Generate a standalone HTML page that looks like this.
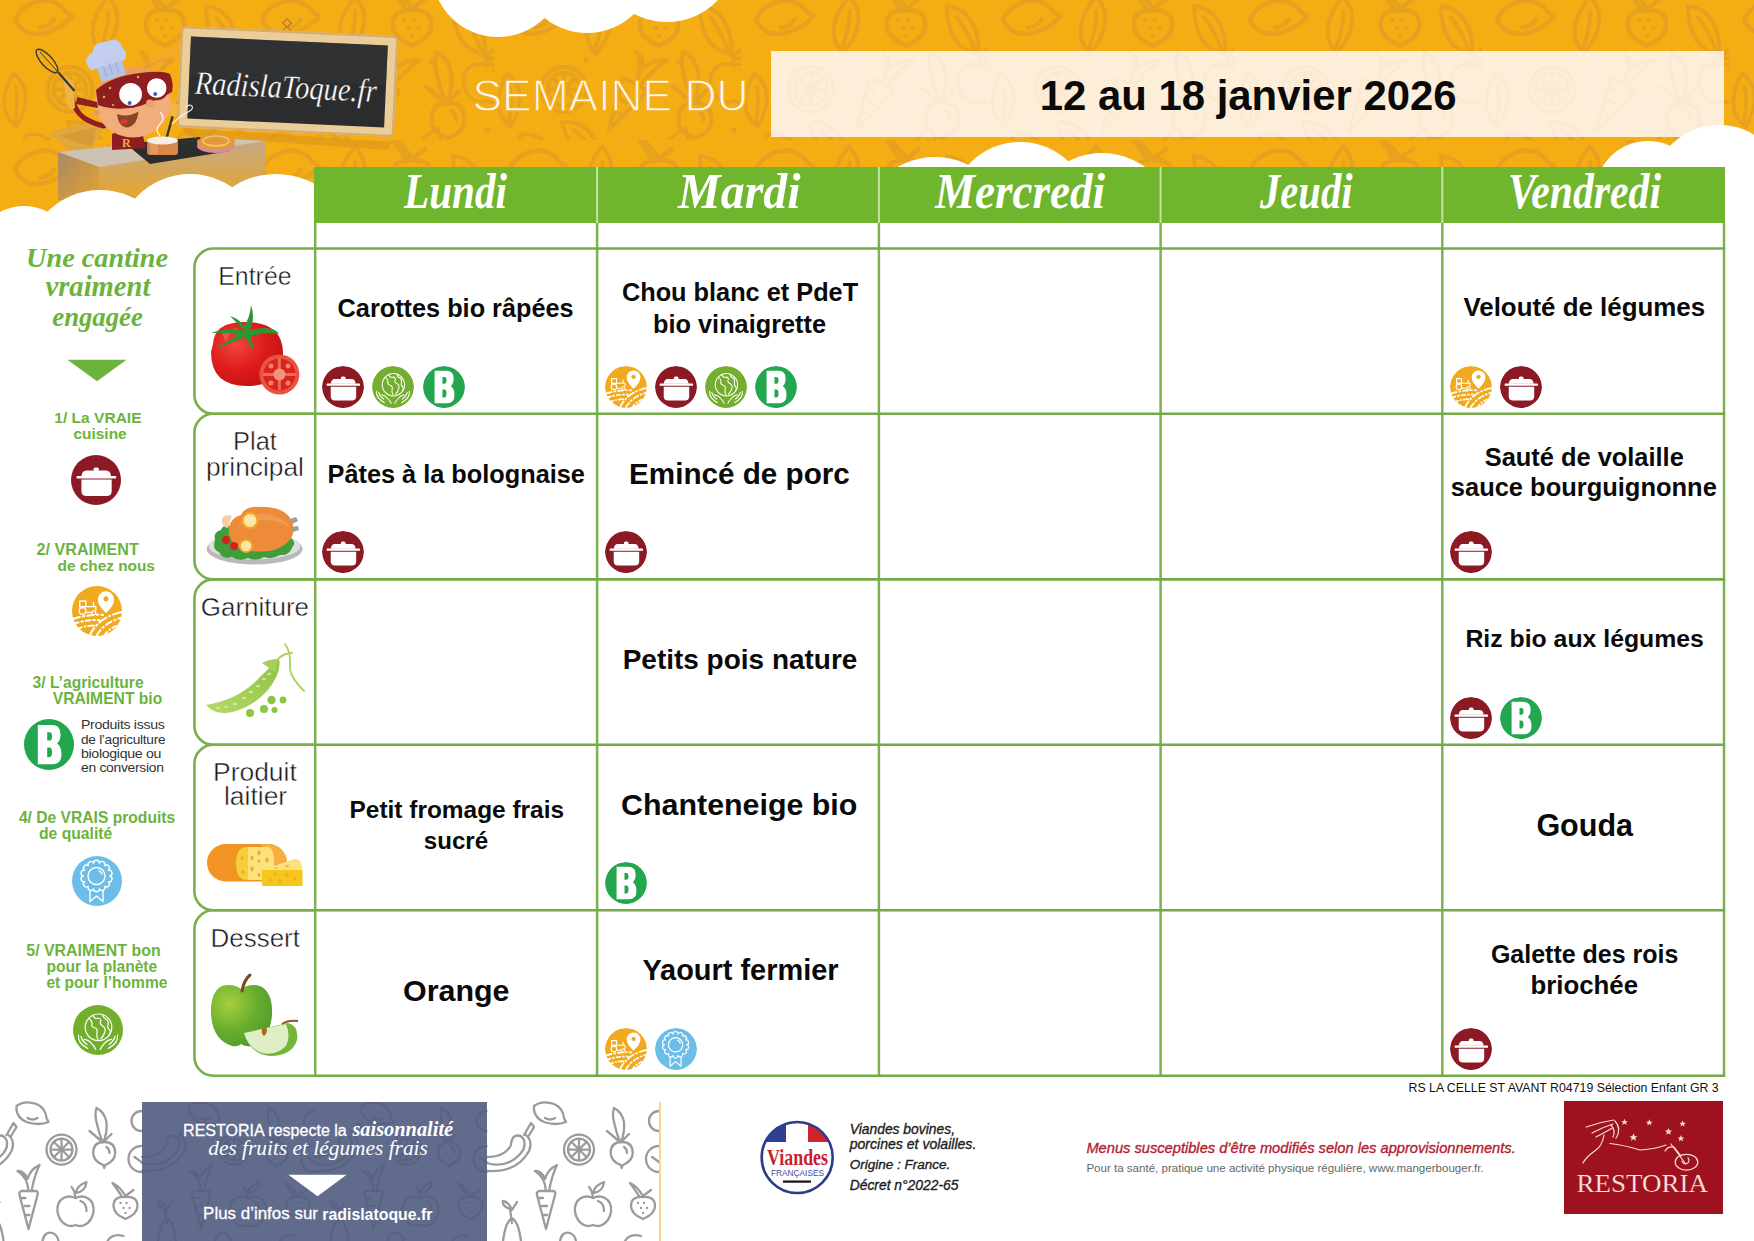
<!DOCTYPE html>
<html><head><meta charset="utf-8">
<style>
*{margin:0;padding:0;box-sizing:border-box}
html,body{width:1754px;height:1241px;overflow:hidden;background:#fff}
body{position:relative;font-family:"Liberation Sans",sans-serif;color:#111}
.abs{position:absolute}
.t{position:absolute;white-space:nowrap}
#hdr{position:absolute;left:0;top:0;width:1754px;height:230px;background:#f5ad14;overflow:hidden}
.cloud{position:absolute;background:#fff;border-radius:50%}
#date{position:absolute;left:771px;top:51px;width:953px;height:86px;background:#fdeeda}
#daterow{position:absolute;left:1039px;top:72px;font-weight:bold;font-size:42px;white-space:nowrap;color:#0a0a0a}
#semaine{position:absolute;left:473px;top:72px;font-size:43px;color:rgba(255,245,225,0.92);white-space:nowrap}
#ghead{position:absolute;left:314px;top:167px;width:1411px;height:56px;background:#6fb52d}
.gsep{position:absolute;top:167px;width:2px;height:56px;background:#c9e3ae}
.day{position:absolute;top:165px;height:56px;width:282px;text-align:center;font-family:"Liberation Serif",serif;font-style:italic;font-weight:bold;font-size:44px;color:#fff;line-height:60px}
.vl{position:absolute;width:3px;background:#78b64c}
.hl{position:absolute;height:2px;background:#74a84c}
.lab{position:absolute;left:193px;width:123px;border:2.5px solid #77b24a;border-right:none;border-radius:20px 0 0 20px}
.ltxt{position:absolute;left:194px;width:121px;text-align:center;font-size:26px;color:#222;line-height:25px}
.cell{position:absolute;width:280px;text-align:center;font-weight:bold;font-size:25px;line-height:31px;color:#0a0a0a;white-space:nowrap}
.big{font-size:29px}
.ic{position:absolute;width:42px;height:42px;border-radius:50%}
</style></head><body>
<svg width="0" height="0" style="position:absolute">
<defs>
<symbol id="pot" viewBox="0 0 50 50">
 <circle cx="25" cy="25" r="25" fill="#8c1a24"/>
 <rect x="22.5" y="12.6" width="5.5" height="3.8" rx="1.8" fill="#fff"/>
 <path d="M10.5 21.2 Q10.8 15.6 15.5 15.5 H35 Q39.7 15.6 40 21.2 Z" fill="#fff"/>
 <rect x="5.5" y="20.9" width="39.8" height="2.6" rx="1" fill="#fff"/>
 <path d="M10.4 24.6 H40.7 V36 Q40.7 41 35.7 41 H15.4 Q10.4 41 10.4 36 Z" fill="#fff"/>
</symbol>
<symbol id="bio" viewBox="0 0 50 50">
 <circle cx="25" cy="25" r="25" fill="#22a64e"/>
 <path fill="#fff" fill-rule="evenodd" d="M13.8 5.8 H28 Q36.5 5.8 36.5 15 Q36.5 21.5 33 24 Q37.5 26.5 37.5 34.5 Q37.5 44.3 28.5 44.3 H13.8 Z M23.2 13 V21.2 H25.5 Q28 21.2 28 17.1 Q28 13 25.5 13 Z M23.2 28 V37.4 H25.5 Q28 37.4 28 32.7 Q28 28 25.5 28 Z"/>
</symbol>
<symbol id="farm" viewBox="0 0 50 50">
 <circle cx="25" cy="25" r="25" fill="#f1aa1f"/>
 <path fill="#fff" fill-rule="evenodd" d="M34 5.3 a8.2 8.2 0 0 1 8.2 8.2 q0 6 -8.2 13.6 q-8.2 -7.6 -8.2 -13.6 a8.2 8.2 0 0 1 8.2 -8.2 z M34 10.3 a2.6 2.6 0 1 0 0.01 0 z"/>
 <g fill="none" stroke="#fff" stroke-width="1.5" stroke-linejoin="round">
  <rect x="7.8" y="15" width="6" height="5.6" stroke-width="1.3"/>
  <path d="M7 20.6 H23.8 V24.6 M21.6 20.6 V16.3" stroke-width="1.3"/>
  <circle cx="10.6" cy="24.9" r="3.3" stroke-width="1.3"/><circle cx="21.9" cy="26.7" r="1.9" stroke-width="1.2"/>
  <path d="M14.2 26.4 H19.8" stroke-width="1.2"/>
 </g>
 <g fill="none" stroke="#fff" stroke-width="2" stroke-linecap="butt">
  <path d="M1 33 Q15 28 32 29" stroke-dasharray="8 1.5 3 1.5"/>
  <path d="M1.5 38 Q14 33.5 28 34" stroke-dasharray="6 1.5 3 1.5"/>
  <path d="M4 43.5 Q14 39 25 39.5" stroke-dasharray="7 1.5 2 1.5"/>
  <path d="M17.5 50 Q26 31 50 26" stroke-dasharray="10 1.5 3 1.5"/>
  <path d="M24.5 50 Q31 37 50 31.5" stroke-dasharray="8 1.5 3 1.5"/>
  <path d="M32 50 Q37 42 50 37.5" stroke-dasharray="6 1.5 2 1.5"/>
 </g>
</symbol>
<symbol id="planet" viewBox="0 0 50 50">
 <circle cx="25" cy="25" r="25" fill="#73ae2e"/>
 <g fill="none" stroke="#fff" stroke-width="1.2" stroke-linecap="round" stroke-linejoin="round">
  <circle cx="25.5" cy="22.3" r="13.3"/>
  <path d="M16 13.5 q3 2 3 5 q-1 3 2 4 q4 1 3 5 q-1 4 1 7"/>
  <path d="M20 10.5 q1 3 4 3 q3 -1 4 2 q-2 3 1 5 q4 2 3 6 q-1 4 -4 7"/>
  <path d="M30 10 q0 3 3 4 q3 2 2 6 q-1 3 2 5 q1 3 -1 5"/>
  <path d="M5.5 30 Q4.5 38 14.7 43.4 M44.5 30 Q45.5 38 35.3 43.4"/>
  <path d="M8 31.5 Q9 36 14 39.5 M42 31.5 Q41 36 36 39.5"/>
  <path d="M11.3 34.3 Q16 35 19 39 Q22 42 22.8 44.5 M38.7 34.3 Q34 35 31 39 Q28 42 27.2 44.5"/>
 </g>
</symbol>
<symbol id="qual" viewBox="0 0 50 50">
 <circle cx="25" cy="25" r="25" fill="#6dbde9"/>
 <g fill="none" stroke="#fff" stroke-width="1.4" stroke-linejoin="round">
  <path d="M18 32.5 V45.5 L24.5 40 L31 45.5 V32.5"/>
  <path d="M37.70 20.00 A2.9 2.9 0 0 1 36.39 25.73 A2.9 2.9 0 0 1 32.73 30.32 A2.9 2.9 0 0 1 27.44 32.87 A2.9 2.9 0 0 1 21.56 32.87 A2.9 2.9 0 0 1 16.27 30.32 A2.9 2.9 0 0 1 12.61 25.73 A2.9 2.9 0 0 1 11.30 20.00 A2.9 2.9 0 0 1 12.61 14.27 A2.9 2.9 0 0 1 16.27 9.68 A2.9 2.9 0 0 1 21.56 7.13 A2.9 2.9 0 0 1 27.44 7.13 A2.9 2.9 0 0 1 32.73 9.68 A2.9 2.9 0 0 1 36.39 14.27 A2.9 2.9 0 0 1 37.70 20.00 Z" fill="#6dbde9"/>
  <circle cx="24.5" cy="20" r="8.5"/>
  <path d="M26.5 14.5 a6 6 0 0 1 3.8 4"/><path d="M22 13.8 h.1"/>
 </g>
</symbol>
</defs></svg>
<div id="hdr"><svg class="abs" style="left:0;top:0" width="1754" height="230" viewBox="0 0 1754 230">
<defs><pattern id="hp" x="0" y="-10" width="247" height="150" patternUnits="userSpaceOnUse">
<g fill="none" stroke="#e6a21f" stroke-width="2.9" stroke-linecap="round" stroke-linejoin="round"><g transform="translate(40 28) rotate(-30) scale(1.6) translate(-548 -1113)"><path d="M534 1106 q8 -6 20 -2 q9 4 10 14 l2 4 q-10 4 -22 0 q-9 -4 -10 -12 z"/><path d="M545 1118 q5 3 10 0"/></g><g transform="translate(105 35) rotate(20) scale(1.4) translate(-605 -1120)"><path d="M600 1100 q20 10 10 40 q-20 -10 -10 -40 z M604 1110 q4 12 4 26"/></g><g transform="translate(165 30) rotate(0) scale(1.6) translate(-643 -1203)"><path d="M643 1197 q12 -1 12 9 q0 8 -12 13 q-12 -5 -12 -13 q0 -10 12 -9 z"/><path d="M643 1196 q-6 -10 -13 -13 q6 8 9 13 M643 1196 l8 -6"/><path d="M638 1203 h.1 M644 1203 h.1 M641 1208 h.1 M647 1208 h.1 M643 1213 h.1"/></g><g transform="translate(222 40) rotate(-20) scale(1.4) translate(-605 -1120)"><path d="M600 1100 q20 10 10 40 q-20 -10 -10 -40 z M604 1110 q4 12 4 26"/></g><g transform="translate(70 100) rotate(0) scale(1.5) translate(-579 -1150)"><circle cx="579" cy="1149.6" r="15"/><circle cx="579" cy="1149.6" r="11"/><path d="M579 1139 v21 M568.5 1149.6 h21 M571.5 1142 l15 15 M571.5 1157 l15 -15"/></g><g transform="translate(135 105) rotate(30) scale(1.4) translate(-546 -1200)"><path d="M539 1191 h15 q2 1 1 4 l-9 34 l-9 -34 q-1 -3 2 -4 z"/><path d="M539 1198 h4 M542 1206 h5 M544 1215 h3"/><path d="M546 1191 q-1 -14 -11 -20 q7 0 10 8 q3 -10 12 -14 q-5 10 -8 26"/></g><g transform="translate(200 110) rotate(0) scale(1.5) translate(-621 -1140)"><path d="M621.7 1142 q11 0 11 11 q0 8 -10 12 l-1 3 l-1 -3 q-10 -4 -10 -12 q0 -11 11 -11 z"/><path d="M624 1147 q3 2 3 6"/><path d="M620 1142 q-4 -10 -6 -20 q-2 -8 0 -14 q8 4 10 14 q1 10 -3 20 M620 1142 l-13 -11 M621 1142 l8 -8"/></g><g transform="translate(15 110) rotate(10) scale(1.3) translate(-605 -1120)"><path d="M600 1100 q20 10 10 40 q-20 -10 -10 -40 z M604 1110 q4 12 4 26"/></g><g transform="translate(88 150) rotate(-35) scale(1.3) translate(-605 -1120)"><path d="M600 1100 q20 10 10 40 q-20 -10 -10 -40 z M604 1110 q4 12 4 26"/></g><g transform="translate(240 85) rotate(0) scale(1.3) translate(-593 -1205)"><path d="M593 1198 q-6 -3 -12 0 q-7 4 -6 14 q2 10 9 13 q4 2 9 0 q5 2 9 0 q7 -3 9 -13 q1 -10 -6 -14 q-6 -3 -12 0 z"/><path d="M598 1201 q6 2 6 10"/><path d="M593 1198 q-1 -8 -4 -11 M593 1193 q2 -8 11 -11 q-1 10 -11 11"/></g><g transform="translate(180 160) rotate(40) scale(1.2) translate(-605 -1120)"><path d="M600 1100 q20 10 10 40 q-20 -10 -10 -40 z M604 1110 q4 12 4 26"/></g><g transform="translate(40 160) rotate(20) scale(1.3) translate(-548 -1113)"><path d="M534 1106 q8 -6 20 -2 q9 4 10 14 l2 4 q-10 4 -22 0 q-9 -4 -10 -12 z"/><path d="M545 1118 q5 3 10 0"/></g></g><g fill="#e6a21f"><circle cx="92" cy="70" r="3"/><circle cx="185" cy="72" r="3"/><circle cx="240" cy="140" r="3"/></g></pattern>
<pattern id="hp2" x="-771" y="-61" width="247" height="150" patternUnits="userSpaceOnUse">
<g fill="none" stroke="#fbead3" stroke-width="2.6" stroke-linecap="round" stroke-linejoin="round"><g transform="translate(40 28) rotate(-30) scale(1.6) translate(-548 -1113)"><path d="M534 1106 q8 -6 20 -2 q9 4 10 14 l2 4 q-10 4 -22 0 q-9 -4 -10 -12 z"/><path d="M545 1118 q5 3 10 0"/></g><g transform="translate(105 35) rotate(20) scale(1.4) translate(-605 -1120)"><path d="M600 1100 q20 10 10 40 q-20 -10 -10 -40 z M604 1110 q4 12 4 26"/></g><g transform="translate(165 30) rotate(0) scale(1.6) translate(-643 -1203)"><path d="M643 1197 q12 -1 12 9 q0 8 -12 13 q-12 -5 -12 -13 q0 -10 12 -9 z"/><path d="M643 1196 q-6 -10 -13 -13 q6 8 9 13 M643 1196 l8 -6"/><path d="M638 1203 h.1 M644 1203 h.1 M641 1208 h.1 M647 1208 h.1 M643 1213 h.1"/></g><g transform="translate(222 40) rotate(-20) scale(1.4) translate(-605 -1120)"><path d="M600 1100 q20 10 10 40 q-20 -10 -10 -40 z M604 1110 q4 12 4 26"/></g><g transform="translate(70 100) rotate(0) scale(1.5) translate(-579 -1150)"><circle cx="579" cy="1149.6" r="15"/><circle cx="579" cy="1149.6" r="11"/><path d="M579 1139 v21 M568.5 1149.6 h21 M571.5 1142 l15 15 M571.5 1157 l15 -15"/></g><g transform="translate(135 105) rotate(30) scale(1.4) translate(-546 -1200)"><path d="M539 1191 h15 q2 1 1 4 l-9 34 l-9 -34 q-1 -3 2 -4 z"/><path d="M539 1198 h4 M542 1206 h5 M544 1215 h3"/><path d="M546 1191 q-1 -14 -11 -20 q7 0 10 8 q3 -10 12 -14 q-5 10 -8 26"/></g><g transform="translate(200 110) rotate(0) scale(1.5) translate(-621 -1140)"><path d="M621.7 1142 q11 0 11 11 q0 8 -10 12 l-1 3 l-1 -3 q-10 -4 -10 -12 q0 -11 11 -11 z"/><path d="M624 1147 q3 2 3 6"/><path d="M620 1142 q-4 -10 -6 -20 q-2 -8 0 -14 q8 4 10 14 q1 10 -3 20 M620 1142 l-13 -11 M621 1142 l8 -8"/></g><g transform="translate(15 110) rotate(10) scale(1.3) translate(-605 -1120)"><path d="M600 1100 q20 10 10 40 q-20 -10 -10 -40 z M604 1110 q4 12 4 26"/></g><g transform="translate(88 150) rotate(-35) scale(1.3) translate(-605 -1120)"><path d="M600 1100 q20 10 10 40 q-20 -10 -10 -40 z M604 1110 q4 12 4 26"/></g><g transform="translate(240 85) rotate(0) scale(1.3) translate(-593 -1205)"><path d="M593 1198 q-6 -3 -12 0 q-7 4 -6 14 q2 10 9 13 q4 2 9 0 q5 2 9 0 q7 -3 9 -13 q1 -10 -6 -14 q-6 -3 -12 0 z"/><path d="M598 1201 q6 2 6 10"/><path d="M593 1198 q-1 -8 -4 -11 M593 1193 q2 -8 11 -11 q-1 10 -11 11"/></g><g transform="translate(180 160) rotate(40) scale(1.2) translate(-605 -1120)"><path d="M600 1100 q20 10 10 40 q-20 -10 -10 -40 z M604 1110 q4 12 4 26"/></g><g transform="translate(40 160) rotate(20) scale(1.3) translate(-548 -1113)"><path d="M534 1106 q8 -6 20 -2 q9 4 10 14 l2 4 q-10 4 -22 0 q-9 -4 -10 -12 z"/><path d="M545 1118 q5 3 10 0"/></g></g></pattern></defs>
<rect x="0" y="0" width="1754" height="230" fill="url(#hp)"/>
</svg><svg class="abs" style="left:0;top:0" width="420" height="230" viewBox="0 0 420 230">
<defs>
<linearGradient id="cf" x1="0" y1="0" x2="0" y2="1"><stop offset="0" stop-color="#c3a98a"/><stop offset="1" stop-color="#e7a52a"/></linearGradient>
<linearGradient id="cs" x1="0" y1="0" x2="1" y2="1"><stop offset="0" stop-color="#a88a68"/><stop offset="1" stop-color="#e3a22c"/></linearGradient>
</defs>
<!-- board shadow -->
<path d="M182 128 L392 142 L388 150 L186 136 Z" fill="#d9951a" opacity="0.6"/>
<!-- hook -->
<path d="M280 33 L287 26 L294 35" fill="none" stroke="#b07a2a" stroke-width="1"/>
<rect x="284" y="20" width="6" height="6" transform="rotate(45 287 23)" fill="none" stroke="#a87a3a" stroke-width="1.2"/>
<!-- board -->
<g transform="rotate(2.6 287 83)">
<rect x="179" y="31" width="217" height="101" rx="5" fill="#ebcd9a"/>
<rect x="180" y="32" width="215" height="99" rx="4" fill="none" stroke="#d4ab72" stroke-width="2"/>
<rect x="189" y="41" width="197" height="82" fill="#2b2c2e"/>
<rect x="189" y="41" width="197" height="40" fill="#353638" opacity="0.5"/>
<text x="195" y="98" font-family="Liberation Serif" font-style="italic" font-size="33" fill="#fff" stroke="#2b2c2e" stroke-width="0.35" textLength="182" lengthAdjust="spacingAndGlyphs">RadislaToque.fr</text>
</g>
<!-- cape -->
<path d="M49 132 Q70 126 98 122 L104 128 Q96 140 90 152 L70 152 Q60 142 49 132 Z" fill="#e2a63f"/>
<path d="M60 136 Q78 130 96 128 L92 146 Q75 142 60 136 Z" fill="#cf9230" opacity="0.6"/>
<!-- counter -->
<path d="M58 152 L200 137 L265 141 L265 200 L99 200 L58 200 Z" fill="url(#cf)"/>
<path d="M58 152 L200 137 L265 141 L99 167 Z" fill="#cdc2b3"/>
<path d="M58 152 L99 167 L99 200 L58 200 Z" fill="url(#cs)"/>
<path d="M126 144 L200 137 L230 151 L150 164 Z" fill="#2c2c2c"/>
<!-- pie -->
<ellipse cx="216" cy="146" rx="19" ry="7" fill="#d88aa0"/>
<ellipse cx="216" cy="142" rx="19" ry="8" fill="#e09a3d"/>
<ellipse cx="216" cy="141" rx="13" ry="5" fill="none" stroke="#f6c86a" stroke-width="1.5"/>
<!-- body -->
<path d="M112 134 Q126 128 142 132 L146 148 L112 150 Z" fill="#8e1e20"/>
<text x="122" y="147" font-family="Liberation Serif" font-weight="bold" font-size="12" fill="#e8b04a">R</text>
<!-- arm + glove + whisk -->
<path d="M71 92 Q73 110 84 118 Q94 124 104 126" fill="none" stroke="#8e1e20" stroke-width="5" stroke-linecap="round"/>
<path d="M63 79 Q70 76 74 84 L75 108 Q70 112 67 104 Z" fill="#eab446"/>
<path d="M74.5 91 L58 72" stroke="#333" stroke-width="2"/>
<ellipse cx="47" cy="61" rx="15" ry="5.5" transform="rotate(48 47 61)" fill="none" stroke="#3a3a3a" stroke-width="1.4"/>
<path d="M40 52 L58 72" stroke="#3a3a3a" stroke-width="1"/>
<!-- hair strands -->
<path d="M136 70 Q160 55 181 45 M146 70 Q165 60 178 52" fill="none" stroke="#eea54a" stroke-width="1.6"/>
<!-- head -->
<ellipse cx="133" cy="102" rx="38" ry="35.5" fill="#f1ae7b"/>
<path d="M95 100 Q96 70 133 66.5 Q168 68 171 98 Q150 72 130 75 Q105 80 95 100 Z" fill="#eda058"/>
<path d="M77 97 L97 102 L98 108 L76 104 Z" fill="#8e1e20"/>
<path d="M96 90 Q112 76 140 73 Q162 70 170 74 Q174 84 172 92 Q158 100 140 106 Q118 112 98 105 Z" fill="#8e1e20"/>
<circle cx="130.6" cy="94.3" r="12.6" fill="#fff" stroke="#8e1e20" stroke-width="2.4"/>
<circle cx="156.7" cy="88" r="11" fill="#fff" stroke="#8e1e20" stroke-width="2.4"/>
<circle cx="129.6" cy="103" r="2" fill="#3b5fc0"/><circle cx="155.2" cy="94" r="2" fill="#3b5fc0"/>
<g fill="#f2b04a"><circle cx="110" cy="88" r="1.2"/><circle cx="104" cy="97" r="1.2"/><circle cx="138" cy="77" r="1.2"/><circle cx="113" cy="105" r="1.1"/></g>
<circle cx="150" cy="103.5" r="4" fill="#eba06f"/>
<path d="M117 114 Q128 118 138.5 111.5 Q137 127 126 127.5 Q118 126 117 114 Z" fill="#8a4428"/>
<ellipse cx="124" cy="121.5" rx="3.5" ry="2.2" fill="#d83a3a"/>
<circle cx="96.7" cy="112.7" r="3" fill="#e39a68"/>
<!-- chef hat -->
<g transform="translate(107 63) rotate(-18) scale(0.92) translate(-105 -58)">
<rect x="93" y="56" width="28" height="20" rx="2" fill="#b6c3e8"/>
<path d="M86 60 Q79 45 94 42 Q98 31 112 36 Q126 33 126 47 Q131 55 124 61 Z" fill="#c3cdee"/>
<path d="M100 60 v12 M107 59 v13 M114 60 v12" stroke="#a4b2dc" stroke-width="2"/>
</g>
<!-- pot + spoon -->
<path d="M176 104 L166 140" stroke="#3a3a2a" stroke-width="2.5" stroke-linecap="round"/>
<path d="M170 104 q6 -4 9 2 l-2 10 q-5 2 -8 -2 z" fill="#efb643"/>
<rect x="147" y="140" width="31" height="15" rx="3" fill="#d78746"/>
<rect x="150" y="142" width="8" height="12" fill="#e8a56a" opacity="0.7"/>
<ellipse cx="162.5" cy="140.5" rx="15.5" ry="4" fill="#f3efe6"/>
<path d="M178 145 L200 138" stroke="#333" stroke-width="2"/>
<path d="M160 136 q-6 -6 0 -12 q6 -6 0 -12 M172 124 q8 -8 16 -12 q6 -3 4 -6 q-3 -2 -6 1" fill="none" stroke="#fff" stroke-width="1.3" opacity="0.85"/>
</svg>
  <!-- top cloud -->
  <div class="cloud" style="left:432px;top:-95.5px;width:132px;height:132px"></div>
  <div class="cloud" style="left:519px;top:-103px;width:136px;height:136px"></div>
  <div class="cloud" style="left:597px;top:-118.3px;width:140px;height:140px"></div>
</div>
<!-- bottom-left clouds -->
<div class="cloud" style="left:-26.3px;top:205.6px;width:100px;height:100px"></div>
<div class="cloud" style="left:25.4px;top:190.1px;width:150px;height:150px"></div>
<div class="cloud" style="left:115.8px;top:173.7px;width:148px;height:148px"></div>
<div class="cloud" style="left:195.5px;top:173.7px;width:160px;height:160px"></div>
<div class="abs" style="left:0;top:215px;width:1754px;height:40px;background:#fff"></div>
<!-- middle clouds -->
<div class="cloud" style="left:860.0px;top:156.5px;width:150px;height:150px"></div>
<div class="cloud" style="left:949.6px;top:141.7px;width:140px;height:140px"></div>
<div class="cloud" style="left:1027.7px;top:153.0px;width:148px;height:148px"></div>
<div id="date"><svg width="953" height="86" style="position:absolute;left:0;top:0"><rect width="953" height="86" fill="url(#hp2)"/></svg></div>
<!-- right clouds -->
<div class="cloud" style="left:1594.5px;top:140.5px;width:106px;height:106px"></div>
<div class="cloud" style="left:1652.2px;top:124.5px;width:133.6px;height:133.6px"></div>
<div class="cloud" style="left:1723.2px;top:124.5px;width:133.6px;height:133.6px"></div>



<div id="ghead"></div>
<svg class="abs" style="left:0;top:0" width="1754" height="230"><g stroke="#c4e2a2" stroke-width="2"><line x1="597.1" y1="167" x2="597.1" y2="223"/><line x1="878.9" y1="167" x2="878.9" y2="223"/><line x1="1160.6" y1="167" x2="1160.6" y2="223"/><line x1="1442.3" y1="167" x2="1442.3" y2="223"/></g></svg>

<!-- grid -->
<svg class="abs" style="left:0;top:0" width="1754" height="1100" viewBox="0 0 1754 1100">
<g stroke="#7ab24d" stroke-width="2.5"><line x1="315.2" y1="223" x2="315.2" y2="1077"/><line x1="597.1" y1="223" x2="597.1" y2="1077"/><line x1="878.9" y1="223" x2="878.9" y2="1077"/><line x1="1160.6" y1="223" x2="1160.6" y2="1077"/><line x1="1442.3" y1="223" x2="1442.3" y2="1077"/><line x1="1724.0" y1="223" x2="1724.0" y2="1077"/></g><g stroke="#74aa48" stroke-width="2.6"><line x1="315" y1="248.5" x2="1725.2" y2="248.5"/><line x1="315" y1="413.8" x2="1725.2" y2="413.8"/><line x1="315" y1="579.4" x2="1725.2" y2="579.4"/><line x1="315" y1="744.8" x2="1725.2" y2="744.8"/><line x1="315" y1="910.3" x2="1725.2" y2="910.3"/><line x1="315" y1="1075.7" x2="1725.2" y2="1075.7"/></g><g fill="none" stroke="#77b04a" stroke-width="2.6"><path d="M315.2 248.5 H213.4 A19 19 0 0 0 194.4 267.5 V394.8 A19 19 0 0 0 213.4 413.8 H315.2"/><path d="M315.2 413.8 H213.4 A19 19 0 0 0 194.4 432.8 V560.4 A19 19 0 0 0 213.4 579.4 H315.2"/><path d="M315.2 579.4 H213.4 A19 19 0 0 0 194.4 598.4 V725.8 A19 19 0 0 0 213.4 744.8 H315.2"/><path d="M315.2 744.8 H213.4 A19 19 0 0 0 194.4 763.8 V891.3 A19 19 0 0 0 213.4 910.3 H315.2"/><path d="M315.2 910.3 H213.4 A19 19 0 0 0 194.4 929.3 V1056.7 A19 19 0 0 0 213.4 1075.7 H315.2"/></g></svg>
<!-- cells -->

<div class="t" style="left:337.6px;top:295.6px;font-size:25.29px;line-height:25.29px;color:#0a0a0a;font-family:'Liberation Sans',sans-serif;font-weight:bold;">Carottes bio râpées</div>
<div class="t" style="left:621.9px;top:279.7px;font-size:25.32px;line-height:25.32px;color:#0a0a0a;font-family:'Liberation Sans',sans-serif;font-weight:bold;">Chou blanc et PdeT</div>
<div class="t" style="left:653.1px;top:311.7px;font-size:25.30px;line-height:25.30px;color:#0a0a0a;font-family:'Liberation Sans',sans-serif;font-weight:bold;">bio vinaigrette</div>
<div class="t" style="left:1463.4px;top:295.1px;font-size:25.90px;line-height:25.90px;color:#0a0a0a;font-family:'Liberation Sans',sans-serif;font-weight:bold;">Velouté de légumes</div>
<div class="t" style="left:327.5px;top:461.6px;font-size:25.32px;line-height:25.32px;color:#0a0a0a;font-family:'Liberation Sans',sans-serif;font-weight:bold;">Pâtes à la bolognaise</div>
<div class="t" style="left:1484.7px;top:444.7px;font-size:25.42px;line-height:25.42px;color:#0a0a0a;font-family:'Liberation Sans',sans-serif;font-weight:bold;">Sauté de volaille</div>
<div class="t" style="left:1450.8px;top:475.2px;font-size:25.48px;line-height:25.48px;color:#0a0a0a;font-family:'Liberation Sans',sans-serif;font-weight:bold;">sauce bourguignonne</div>
<div class="t" style="left:622.7px;top:645.9px;font-size:27.97px;line-height:27.97px;color:#0a0a0a;font-family:'Liberation Sans',sans-serif;font-weight:bold;">Petits pois nature</div>
<div class="t" style="left:1465.4px;top:627.0px;font-size:24.82px;line-height:24.82px;color:#0a0a0a;font-family:'Liberation Sans',sans-serif;font-weight:bold;">Riz bio aux légumes</div>
<div class="t" style="left:349.5px;top:798.1px;font-size:24.45px;line-height:24.45px;color:#0a0a0a;font-family:'Liberation Sans',sans-serif;font-weight:bold;">Petit fromage frais</div>
<div class="t" style="left:423.8px;top:829.3px;font-size:24.10px;line-height:24.10px;color:#0a0a0a;font-family:'Liberation Sans',sans-serif;font-weight:bold;">sucré</div>
<div class="t" style="left:1490.9px;top:941.8px;font-size:25.00px;line-height:25.00px;color:#0a0a0a;font-family:'Liberation Sans',sans-serif;font-weight:bold;">Galette des rois</div>
<div class="t" style="left:1530.5px;top:972.8px;font-size:25.82px;line-height:25.82px;color:#0a0a0a;font-family:'Liberation Sans',sans-serif;font-weight:bold;">briochée</div>
<div class="t" style="left:629.1px;top:458.9px;font-size:29.65px;line-height:29.65px;color:#0a0a0a;font-family:'Liberation Sans',sans-serif;font-weight:bold;">Emincé de porc</div>
<div class="t" style="left:621.1px;top:788.9px;font-size:30.38px;line-height:30.38px;color:#0a0a0a;font-family:'Liberation Sans',sans-serif;font-weight:bold;">Chanteneige bio</div>
<div class="t" style="left:1536.4px;top:810.1px;font-size:30.51px;line-height:30.51px;color:#0a0a0a;font-family:'Liberation Sans',sans-serif;font-weight:bold;">Gouda</div>
<div class="t" style="left:403.0px;top:975.1px;font-size:30.42px;line-height:30.42px;color:#0a0a0a;font-family:'Liberation Sans',sans-serif;font-weight:bold;">Orange</div>
<div class="t" style="left:642.4px;top:956.4px;font-size:28.95px;line-height:28.95px;color:#0a0a0a;font-family:'Liberation Sans',sans-serif;font-weight:bold;">Yaourt fermier</div>
<div class="t" style="left:218.2px;top:263.7px;font-size:24.95px;line-height:24.95px;color:#151515;font-family:'Liberation Sans',sans-serif;-webkit-text-stroke:0.45px #ffffff;">Entrée</div>
<div class="t" style="left:233.0px;top:429.4px;font-size:25.48px;line-height:25.48px;color:#151515;font-family:'Liberation Sans',sans-serif;-webkit-text-stroke:0.45px #ffffff;">Plat</div>
<div class="t" style="left:206.0px;top:453.8px;font-size:26.29px;line-height:26.29px;color:#151515;font-family:'Liberation Sans',sans-serif;-webkit-text-stroke:0.45px #ffffff;">principal</div>
<div class="t" style="left:200.8px;top:593.9px;font-size:25.98px;line-height:25.98px;color:#151515;font-family:'Liberation Sans',sans-serif;-webkit-text-stroke:0.45px #ffffff;">Garniture</div>
<div class="t" style="left:213.0px;top:758.6px;font-size:26.45px;line-height:26.45px;color:#151515;font-family:'Liberation Sans',sans-serif;-webkit-text-stroke:0.45px #ffffff;">Produit</div>
<div class="t" style="left:224.0px;top:783.0px;font-size:26.45px;line-height:26.45px;color:#151515;font-family:'Liberation Sans',sans-serif;-webkit-text-stroke:0.45px #ffffff;">laitier</div>
<div class="t" style="left:210.5px;top:924.6px;font-size:25.98px;line-height:25.98px;color:#151515;font-family:'Liberation Sans',sans-serif;-webkit-text-stroke:0.45px #ffffff;">Dessert</div>
<div class="t" style="left:404.0px;top:166.1px;font-size:50.00px;line-height:50.00px;color:#ffffff;font-family:'Liberation Serif',serif;font-weight:bold;font-style:italic;transform:scaleX(0.8229);transform-origin:0 0;">Lundi</div>
<div class="t" style="left:677.9px;top:166.1px;font-size:50.00px;line-height:50.00px;color:#ffffff;font-family:'Liberation Serif',serif;font-weight:bold;font-style:italic;transform:scaleX(0.9593);transform-origin:0 0;">Mardi</div>
<div class="t" style="left:934.5px;top:166.1px;font-size:50.00px;line-height:50.00px;color:#ffffff;font-family:'Liberation Serif',serif;font-weight:bold;font-style:italic;transform:scaleX(0.9003);transform-origin:0 0;">Mercredi</div>
<div class="t" style="left:1259.5px;top:166.1px;font-size:50.00px;line-height:50.00px;color:#ffffff;font-family:'Liberation Serif',serif;font-weight:bold;font-style:italic;transform:scaleX(0.8122);transform-origin:0 0;">Jeudi</div>
<div class="t" style="left:1508.0px;top:166.1px;font-size:50.00px;line-height:50.00px;color:#ffffff;font-family:'Liberation Serif',serif;font-weight:bold;font-style:italic;transform:scaleX(0.8345);transform-origin:0 0;">Vendredi</div>
<div class="t" style="left:472.5px;top:74.0px;font-size:44.35px;line-height:44.35px;color:#fffaf0;font-family:'Liberation Sans',sans-serif;-webkit-text-stroke:1.3px #f5ad14;">SEMAINE DU</div>
<div class="t" style="left:1039.7px;top:75.4px;font-size:41.90px;line-height:41.90px;color:#0a0a0a;font-family:'Liberation Sans',sans-serif;font-weight:bold;">12 au 18 janvier 2026</div>

<!-- cell icons -->
<svg class="ic" style="left:322.0px;top:365.9px" viewBox="0 0 50 50"><use href="#pot"/></svg>
<svg class="ic" style="left:372.3px;top:365.9px" viewBox="0 0 50 50"><use href="#planet"/></svg>
<svg class="ic" style="left:422.6px;top:365.9px" viewBox="0 0 50 50"><use href="#bio"/></svg>
<svg class="ic" style="left:604.5px;top:365.9px" viewBox="0 0 50 50"><use href="#farm"/></svg>
<svg class="ic" style="left:654.8px;top:365.9px" viewBox="0 0 50 50"><use href="#pot"/></svg>
<svg class="ic" style="left:705.1px;top:365.9px" viewBox="0 0 50 50"><use href="#planet"/></svg>
<svg class="ic" style="left:755.4px;top:365.9px" viewBox="0 0 50 50"><use href="#bio"/></svg>
<svg class="ic" style="left:1450.0px;top:365.9px" viewBox="0 0 50 50"><use href="#farm"/></svg>
<svg class="ic" style="left:1500.3px;top:365.9px" viewBox="0 0 50 50"><use href="#pot"/></svg>
<svg class="ic" style="left:322.0px;top:531.3px" viewBox="0 0 50 50"><use href="#pot"/></svg>
<svg class="ic" style="left:604.5px;top:531.3px" viewBox="0 0 50 50"><use href="#pot"/></svg>
<svg class="ic" style="left:1450.0px;top:531.3px" viewBox="0 0 50 50"><use href="#pot"/></svg>
<svg class="ic" style="left:1450.0px;top:696.7px" viewBox="0 0 50 50"><use href="#pot"/></svg>
<svg class="ic" style="left:1500.3px;top:696.7px" viewBox="0 0 50 50"><use href="#bio"/></svg>
<svg class="ic" style="left:604.5px;top:862.1px" viewBox="0 0 50 50"><use href="#bio"/></svg>
<svg class="ic" style="left:604.5px;top:1027.5px" viewBox="0 0 50 50"><use href="#farm"/></svg>
<svg class="ic" style="left:654.8px;top:1027.5px" viewBox="0 0 50 50"><use href="#qual"/></svg>
<svg class="ic" style="left:1450.0px;top:1027.5px" viewBox="0 0 50 50"><use href="#pot"/></svg>

<!-- sidebar -->
<div class="t" style="left:26.0px;top:244.3px;font-size:28.28px;line-height:28.28px;color:#6cb33e;font-family:'Liberation Serif',serif;font-weight:bold;font-style:italic;">Une cantine</div>
<div class="t" style="left:45.5px;top:272.7px;font-size:28.61px;line-height:28.61px;color:#6cb33e;font-family:'Liberation Serif',serif;font-weight:bold;font-style:italic;">vraiment</div>
<div class="t" style="left:52.3px;top:303.9px;font-size:26.71px;line-height:26.71px;color:#6cb33e;font-family:'Liberation Serif',serif;font-weight:bold;font-style:italic;">engagée</div>
<svg class="abs" style="left:67px;top:359px" width="60" height="23"><path d="M0.5 0.8 H59.5 L30 22.3 Z" fill="#6cb33e"/></svg>
<div class="t" style="left:54.3px;top:409.5px;font-size:15.55px;line-height:15.55px;color:#6cb33e;font-family:'Liberation Sans',sans-serif;font-weight:bold;">1/ La VRAIE</div>
<div class="t" style="left:73.4px;top:425.7px;font-size:15.47px;line-height:15.47px;color:#6cb33e;font-family:'Liberation Sans',sans-serif;font-weight:bold;">cuisine</div>
<svg class="abs" style="left:71px;top:455px" width="50" height="50" viewBox="0 0 50 50"><use href="#pot"/></svg>
<div class="t" style="left:36.6px;top:541.0px;font-size:16.15px;line-height:16.15px;color:#6cb33e;font-family:'Liberation Sans',sans-serif;font-weight:bold;">2/ VRAIMENT</div>
<div class="t" style="left:57.5px;top:557.8px;font-size:15.39px;line-height:15.39px;color:#6cb33e;font-family:'Liberation Sans',sans-serif;font-weight:bold;">de chez nous</div>
<svg class="abs" style="left:72px;top:586px" width="50" height="50" viewBox="0 0 50 50"><use href="#farm"/></svg>
<div class="t" style="left:32.6px;top:675.0px;font-size:15.62px;line-height:15.62px;color:#6cb33e;font-family:'Liberation Sans',sans-serif;font-weight:bold;">3/ L’agriculture</div>
<div class="t" style="left:52.7px;top:691.0px;font-size:15.66px;line-height:15.66px;color:#6cb33e;font-family:'Liberation Sans',sans-serif;font-weight:bold;">VRAIMENT bio</div>
<svg class="abs" style="left:23.5px;top:719px" width="50" height="51" viewBox="0 0 50 50" preserveAspectRatio="none"><use href="#bio"/></svg>
<div class="t" style="left:80.9px;top:718.2px;font-size:13.50px;line-height:13.50px;color:#333;font-family:'Liberation Sans',sans-serif;transform:scaleX(1.0448);transform-origin:0 0;letter-spacing:-0.3px;">Produits issus</div>
<div class="t" style="left:80.9px;top:732.5px;font-size:13.50px;line-height:13.50px;color:#333;font-family:'Liberation Sans',sans-serif;transform:scaleX(1.0148);transform-origin:0 0;letter-spacing:-0.3px;">de l’agriculture</div>
<div class="t" style="left:80.9px;top:746.8px;font-size:13.50px;line-height:13.50px;color:#333;font-family:'Liberation Sans',sans-serif;transform:scaleX(1.0470);transform-origin:0 0;letter-spacing:-0.3px;">biologique ou</div>
<div class="t" style="left:80.9px;top:761.1px;font-size:13.50px;line-height:13.50px;color:#333;font-family:'Liberation Sans',sans-serif;transform:scaleX(1.0303);transform-origin:0 0;letter-spacing:-0.3px;">en conversion</div>
<div class="t" style="left:18.9px;top:810.4px;font-size:15.63px;line-height:15.63px;color:#6cb33e;font-family:'Liberation Sans',sans-serif;font-weight:bold;">4/ De VRAIS produits</div>
<div class="t" style="left:39.0px;top:826.4px;font-size:15.70px;line-height:15.70px;color:#6cb33e;font-family:'Liberation Sans',sans-serif;font-weight:bold;">de qualité</div>
<svg class="abs" style="left:72px;top:855.5px" width="50" height="50" viewBox="0 0 50 50"><use href="#qual"/></svg>
<div class="t" style="left:26.3px;top:942.9px;font-size:15.92px;line-height:15.92px;color:#6cb33e;font-family:'Liberation Sans',sans-serif;font-weight:bold;">5/ VRAIMENT bon</div>
<div class="t" style="left:46.4px;top:959.2px;font-size:15.58px;line-height:15.58px;color:#6cb33e;font-family:'Liberation Sans',sans-serif;font-weight:bold;">pour la planète</div>
<div class="t" style="left:46.4px;top:975.1px;font-size:15.57px;line-height:15.57px;color:#6cb33e;font-family:'Liberation Sans',sans-serif;font-weight:bold;">et pour l’homme</div>
<svg class="abs" style="left:72.5px;top:1004.5px" width="50" height="50" viewBox="0 0 50 50"><use href="#planet"/></svg>

<!-- food -->
<svg class="abs" style="left:195px;top:250px" width="120" height="825" viewBox="195 250 120 825">
<defs>
<radialGradient id="tg" cx="0.35" cy="0.35" r="0.7"><stop offset="0" stop-color="#f0463a"/><stop offset="0.6" stop-color="#dd1a1a"/><stop offset="1" stop-color="#c41515"/></radialGradient>
<radialGradient id="ag" cx="0.3" cy="0.3" r="0.8"><stop offset="0" stop-color="#a6cf3e"/><stop offset="0.55" stop-color="#6aae2f"/><stop offset="1" stop-color="#4f9a2c"/></radialGradient>
<linearGradient id="pg" x1="0" y1="1" x2="1" y2="0"><stop offset="0" stop-color="#b7d86a"/><stop offset="1" stop-color="#8cc43f"/></linearGradient>
</defs>
<!-- tomato -->
<path d="M213 344 Q214 322 245 322 Q282 322 283 352 Q284 386 247 386 Q211 386 211 352 Z" fill="url(#tg)"/>
<path d="M222 334 q8 -6 16 -6 q-10 6 -12 14 z" fill="#f7776a" opacity="0.5"/>
<g fill="#2f9434">
<path d="M245 331 Q230 326 211 333 Q228 332 238 335 Q226 342 216 349 Q236 341 245 337 Q250 345 254 351 Q252 341 251 336 Q266 332 279 334 Q276 328 263 328 Q255 329 249 330 Q256 320 251 305 Q250 318 244 326 Q238 318 230 316 Q238 324 245 331 Z"/>
</g>
<circle cx="279.4" cy="374.4" r="20" fill="#e9533f"/>
<circle cx="279.4" cy="374.4" r="16" fill="#d8261f"/>
<g fill="#ee6a52"><path d="M279.4 358 v32 M263 374.4 h33" stroke="#ee6a52" stroke-width="3"/></g>
<circle cx="279.4" cy="374.4" r="6" fill="#f3937d"/>
<g fill="#f29b7f" opacity="0.8"><circle cx="271" cy="366" r="2.5"/><circle cx="288" cy="366" r="2.5"/><circle cx="271" cy="383" r="2.5"/><circle cx="288" cy="383" r="2.5"/></g>
<!-- chicken -->
<ellipse cx="254.6" cy="549" rx="48" ry="15.5" fill="#b9b9b9"/>
<ellipse cx="254.6" cy="546" rx="46" ry="13.5" fill="#dedede"/>
<ellipse cx="254.6" cy="544" rx="40" ry="10" fill="#ececec"/>
<path d="M215 540 q-2 -8 6 -10 q2 -6 10 -4 q6 -4 14 0 q10 -3 18 1 q10 -2 18 2 q9 1 10 9 q6 4 1 10 q-3 8 -12 7 q-8 5 -16 2 q-8 5 -16 1 q-9 4 -16 -1 q-9 3 -13 -5 q-7 -2 -4 -12 z" fill="#3f9e3b"/>
<path d="M232 516 q-10 -3 -10 5 q0 6 6 7 q2 -8 4 -12 z" fill="#f6cda5"/>
<path d="M229 535 q-2 -16 12 -20 q4 -10 24 -8 q24 1 28 18 q3 14 -12 22 q-10 6 -30 4 q-18 -2 -22 -16 z" fill="#ee8b39"/>
<path d="M236 530 q6 -10 24 -10 q22 0 30 8 q-6 -12 -26 -14 q-20 -1 -28 16 z" fill="#f4a259" opacity="0.7"/>
<path d="M290 519 l6 -2 l2 4 l-6 3 z M292 527 l6 -1 l1 4 l-6 2 z" fill="#9e9e9e"/>
<circle cx="250" cy="520.5" r="8.5" fill="#f6a623"/><circle cx="250" cy="520.5" r="6.5" fill="#fde7a6"/>
<circle cx="246" cy="546" r="7" fill="#f6a623"/><circle cx="246" cy="546" r="5.2" fill="#fde7a6"/>
<circle cx="226" cy="540" r="4" fill="#d6221f"/><circle cx="234" cy="546" r="4" fill="#d6221f"/>
<!-- peas -->
<path d="M206 705 Q236 700 255 682 Q270 667 279 659 Q282 672 268 690 Q250 710 226 713 Q214 714 206 705 Z" fill="url(#pg)"/>
<g fill="#e4f0c4" opacity="0.7"><ellipse cx="218" cy="708" rx="2" ry="1"/><ellipse cx="226" cy="707" rx="2" ry="1"/><ellipse cx="235" cy="704" rx="2.2" ry="1.2"/><ellipse cx="244" cy="698" rx="2.2" ry="1.2"/><ellipse cx="251" cy="692" rx="2.2" ry="1.2"/><ellipse cx="258" cy="686" rx="2.2" ry="1.2"/><ellipse cx="264" cy="679" rx="2" ry="1.2"/><ellipse cx="269" cy="674" rx="2" ry="1.2"/></g>
<path d="M262 663 q8 -4 16 -4 q-2 8 -2 14" fill="#a6cf5a"/>
<g fill="none" stroke="#a9d25e" stroke-width="1.8" stroke-linecap="round"><path d="M278 659 q6 -6 14 -6"/><path d="M285 644 q6 8 5 22 q-1 10 14 25"/></g>
<g fill="#8cc63f"><circle cx="250" cy="713" r="4"/><circle cx="264" cy="709" r="4"/><circle cx="271.5" cy="700" r="4.2"/><circle cx="283" cy="700" r="3.4"/><circle cx="274.5" cy="710" r="3"/></g>
<!-- cheese -->
<rect x="207" y="844" width="80" height="37.5" rx="18.7" fill="#f29326"/>
<path d="M262 844 h6 a18.7 18.7 0 0 1 0 37.5 h-6 z" fill="#f6ad42"/>
<path d="M247 847 h20 q7 0 7 16.5 q0 16.5 -7 16.5 h-20 q-11 0 -11 -16.5 q0 -16.5 11 -16.5 z" fill="#f8cd38"/>
<path d="M248 847 h19 q7 0 7 16.5 q0 16.5 -7 16.5 h-19 z" fill="#fde17b"/>
<g fill="#eba93a"><ellipse cx="259" cy="853" rx="1.5" ry="2.4"/><ellipse cx="252" cy="858" rx="1.5" ry="2.2"/><ellipse cx="259" cy="861" rx="1.3" ry="1.8"/><ellipse cx="267" cy="860" rx="1.6" ry="2.4"/><ellipse cx="252" cy="869" rx="1.6" ry="2.4"/><ellipse cx="259" cy="875" rx="1.4" ry="2"/><ellipse cx="242" cy="858" rx="1.3" ry="1.8"/><ellipse cx="243" cy="872" rx="1.5" ry="2"/></g>
<path d="M262 870 L294 859 Q300 858 302 866 V870 Z" fill="#fde17b"/>
<rect x="262" y="870" width="40.5" height="16" fill="#f6c61b"/>
<g fill="#eba93a"><ellipse cx="275" cy="874" rx="1.5" ry="1.3"/><ellipse cx="287" cy="875" rx="1.6" ry="2"/><ellipse cx="270" cy="880" rx="1.5" ry="1.5"/><ellipse cx="280" cy="881" rx="1.3" ry="1.8"/><ellipse cx="295" cy="879" rx="1.6" ry="1.8"/><ellipse cx="287" cy="866" rx="2" ry="1"/><ellipse cx="276" cy="868" rx="1.5" ry=".8"/></g>
<!-- apple -->
<path d="M241 989 Q233 983 222 986 Q210 992 211 1015 Q213 1040 232 1046 Q238 1047 241 1044 Q245 1047 252 1046 Q270 1040 272 1015 Q273 992 260 986 Q250 983 241 989 Z" fill="url(#ag)"/>
<path d="M242 991 Q244 980 250 975" stroke="#7b4a20" stroke-width="3" fill="none" stroke-linecap="round"/>
<path d="M244 1033 L288 1023 Q299 1026 297 1040 Q292 1056 270 1056 Q250 1054 244 1033 Z" fill="#74b43c"/>
<path d="M244 1033 L286 1024 Q291 1036 286 1046 Q276 1056 262 1053 Q248 1048 244 1033 Z" fill="#dfeec5"/>
<path d="M262 1029 q3 -2 5 0 q0 5 -3 7 q-3 -2 -2 -7 z" fill="#b5641d"/>
<path d="M282 1024 q6 -4 16 -3" stroke="#8a5426" stroke-width="2" fill="none"/>
</svg>

<!-- footer -->
<svg class="abs" style="left:0;top:0" width="660" height="1241" viewBox="0 0 660 1241"><defs><clipPath id="fclip"><rect x="0" y="1100" width="142" height="141"/><rect x="487" y="1100" width="172.5" height="141"/></clipPath><clipPath id="bclip"><rect x="142" y="1102" width="345" height="139"/></clipPath></defs><g clip-path="url(#fclip)"><g transform="translate(-0.0 0)"><g fill="none" stroke="#9b9b9b" stroke-width="2.3" stroke-linecap="round" stroke-linejoin="round">
<path d="M534 1106 q8 -6 20 -2 q9 4 10 14 l2 4 q-10 4 -22 0 q-9 -4 -10 -12 z"/><path d="M545 1118 q5 3 10 0"/>
<path d="M487 1163 q20 6 34 -10 q5 -6 3 -13 q-3 -6 -9 -4 q-4 3 -4 9 q-6 12 -24 12"/><path d="M487 1171 q30 2 42 -20 q4 -10 -3 -16"/><path d="M524 1135 l7 -12 l3 4 l-6 10"/>
<circle cx="579" cy="1149.6" r="15"/><circle cx="579" cy="1149.6" r="11"/><path d="M579 1139 v21 M568.5 1149.6 h21 M571.5 1142 l15 15 M571.5 1157 l15 -15"/>
<path d="M621.7 1142 q11 0 11 11 q0 8 -10 12 l-1 3 l-1 -3 q-10 -4 -10 -12 q0 -11 11 -11 z"/><path d="M624 1147 q3 2 3 6"/><path d="M620 1142 q-4 -10 -6 -20 q-2 -8 0 -14 q8 4 10 14 q1 10 -3 20 M620 1142 l-13 -11 M621 1142 l8 -8"/>
<path d="M539 1191 h15 q2 1 1 4 l-9 34 l-9 -34 q-1 -3 2 -4 z"/><path d="M539 1198 h4 M542 1206 h5 M544 1215 h3"/><path d="M546 1191 q-1 -14 -11 -20 q7 0 10 8 q3 -10 12 -14 q-5 10 -8 26"/>
<path d="M593 1198 q-6 -3 -12 0 q-7 4 -6 14 q2 10 9 13 q4 2 9 0 q5 2 9 0 q7 -3 9 -13 q1 -10 -6 -14 q-6 -3 -12 0 z"/><path d="M598 1201 q6 2 6 10"/><path d="M593 1198 q-1 -8 -4 -11 M593 1193 q2 -8 11 -11 q-1 10 -11 11"/>
<path d="M643 1197 q12 -1 12 9 q0 8 -12 13 q-12 -5 -12 -13 q0 -10 12 -9 z"/><path d="M643 1196 q-6 -10 -13 -13 q6 8 9 13 M643 1196 l8 -6"/><path d="M638 1203 h.1 M644 1203 h.1 M641 1208 h.1 M647 1208 h.1 M643 1213 h.1"/>
<path d="M503 1241 q2 -15 6 -20 q3 -5 6 0 q4 5 6 20 M512 1223 l-2 -14 q-8 -3 -7 -8 q6 1 9 9 l5 -8"/>
<path d="M659 1111 a10 10 0 0 0 0 20 M659 1146 a13 13 0 0 0 0 26 M652 1157 l7 5"/>
<path d="M560 1241 q2 -10 10 -8 q5 2 6 8"/><path d="M625 1241 q5 -8 16 -5"/>
</g></g><g transform="translate(-172.5 0)"><g fill="none" stroke="#9b9b9b" stroke-width="2.3" stroke-linecap="round" stroke-linejoin="round">
<path d="M534 1106 q8 -6 20 -2 q9 4 10 14 l2 4 q-10 4 -22 0 q-9 -4 -10 -12 z"/><path d="M545 1118 q5 3 10 0"/>
<path d="M487 1163 q20 6 34 -10 q5 -6 3 -13 q-3 -6 -9 -4 q-4 3 -4 9 q-6 12 -24 12"/><path d="M487 1171 q30 2 42 -20 q4 -10 -3 -16"/><path d="M524 1135 l7 -12 l3 4 l-6 10"/>
<circle cx="579" cy="1149.6" r="15"/><circle cx="579" cy="1149.6" r="11"/><path d="M579 1139 v21 M568.5 1149.6 h21 M571.5 1142 l15 15 M571.5 1157 l15 -15"/>
<path d="M621.7 1142 q11 0 11 11 q0 8 -10 12 l-1 3 l-1 -3 q-10 -4 -10 -12 q0 -11 11 -11 z"/><path d="M624 1147 q3 2 3 6"/><path d="M620 1142 q-4 -10 -6 -20 q-2 -8 0 -14 q8 4 10 14 q1 10 -3 20 M620 1142 l-13 -11 M621 1142 l8 -8"/>
<path d="M539 1191 h15 q2 1 1 4 l-9 34 l-9 -34 q-1 -3 2 -4 z"/><path d="M539 1198 h4 M542 1206 h5 M544 1215 h3"/><path d="M546 1191 q-1 -14 -11 -20 q7 0 10 8 q3 -10 12 -14 q-5 10 -8 26"/>
<path d="M593 1198 q-6 -3 -12 0 q-7 4 -6 14 q2 10 9 13 q4 2 9 0 q5 2 9 0 q7 -3 9 -13 q1 -10 -6 -14 q-6 -3 -12 0 z"/><path d="M598 1201 q6 2 6 10"/><path d="M593 1198 q-1 -8 -4 -11 M593 1193 q2 -8 11 -11 q-1 10 -11 11"/>
<path d="M643 1197 q12 -1 12 9 q0 8 -12 13 q-12 -5 -12 -13 q0 -10 12 -9 z"/><path d="M643 1196 q-6 -10 -13 -13 q6 8 9 13 M643 1196 l8 -6"/><path d="M638 1203 h.1 M644 1203 h.1 M641 1208 h.1 M647 1208 h.1 M643 1213 h.1"/>
<path d="M503 1241 q2 -15 6 -20 q3 -5 6 0 q4 5 6 20 M512 1223 l-2 -14 q-8 -3 -7 -8 q6 1 9 9 l5 -8"/>
<path d="M659 1111 a10 10 0 0 0 0 20 M659 1146 a13 13 0 0 0 0 26 M652 1157 l7 5"/>
<path d="M560 1241 q2 -10 10 -8 q5 2 6 8"/><path d="M625 1241 q5 -8 16 -5"/>
</g></g><g transform="translate(-345.0 0)"><g fill="none" stroke="#9b9b9b" stroke-width="2.3" stroke-linecap="round" stroke-linejoin="round">
<path d="M534 1106 q8 -6 20 -2 q9 4 10 14 l2 4 q-10 4 -22 0 q-9 -4 -10 -12 z"/><path d="M545 1118 q5 3 10 0"/>
<path d="M487 1163 q20 6 34 -10 q5 -6 3 -13 q-3 -6 -9 -4 q-4 3 -4 9 q-6 12 -24 12"/><path d="M487 1171 q30 2 42 -20 q4 -10 -3 -16"/><path d="M524 1135 l7 -12 l3 4 l-6 10"/>
<circle cx="579" cy="1149.6" r="15"/><circle cx="579" cy="1149.6" r="11"/><path d="M579 1139 v21 M568.5 1149.6 h21 M571.5 1142 l15 15 M571.5 1157 l15 -15"/>
<path d="M621.7 1142 q11 0 11 11 q0 8 -10 12 l-1 3 l-1 -3 q-10 -4 -10 -12 q0 -11 11 -11 z"/><path d="M624 1147 q3 2 3 6"/><path d="M620 1142 q-4 -10 -6 -20 q-2 -8 0 -14 q8 4 10 14 q1 10 -3 20 M620 1142 l-13 -11 M621 1142 l8 -8"/>
<path d="M539 1191 h15 q2 1 1 4 l-9 34 l-9 -34 q-1 -3 2 -4 z"/><path d="M539 1198 h4 M542 1206 h5 M544 1215 h3"/><path d="M546 1191 q-1 -14 -11 -20 q7 0 10 8 q3 -10 12 -14 q-5 10 -8 26"/>
<path d="M593 1198 q-6 -3 -12 0 q-7 4 -6 14 q2 10 9 13 q4 2 9 0 q5 2 9 0 q7 -3 9 -13 q1 -10 -6 -14 q-6 -3 -12 0 z"/><path d="M598 1201 q6 2 6 10"/><path d="M593 1198 q-1 -8 -4 -11 M593 1193 q2 -8 11 -11 q-1 10 -11 11"/>
<path d="M643 1197 q12 -1 12 9 q0 8 -12 13 q-12 -5 -12 -13 q0 -10 12 -9 z"/><path d="M643 1196 q-6 -10 -13 -13 q6 8 9 13 M643 1196 l8 -6"/><path d="M638 1203 h.1 M644 1203 h.1 M641 1208 h.1 M647 1208 h.1 M643 1213 h.1"/>
<path d="M503 1241 q2 -15 6 -20 q3 -5 6 0 q4 5 6 20 M512 1223 l-2 -14 q-8 -3 -7 -8 q6 1 9 9 l5 -8"/>
<path d="M659 1111 a10 10 0 0 0 0 20 M659 1146 a13 13 0 0 0 0 26 M652 1157 l7 5"/>
<path d="M560 1241 q2 -10 10 -8 q5 2 6 8"/><path d="M625 1241 q5 -8 16 -5"/>
</g></g><g transform="translate(-517.5 0)"><g fill="none" stroke="#9b9b9b" stroke-width="2.3" stroke-linecap="round" stroke-linejoin="round">
<path d="M534 1106 q8 -6 20 -2 q9 4 10 14 l2 4 q-10 4 -22 0 q-9 -4 -10 -12 z"/><path d="M545 1118 q5 3 10 0"/>
<path d="M487 1163 q20 6 34 -10 q5 -6 3 -13 q-3 -6 -9 -4 q-4 3 -4 9 q-6 12 -24 12"/><path d="M487 1171 q30 2 42 -20 q4 -10 -3 -16"/><path d="M524 1135 l7 -12 l3 4 l-6 10"/>
<circle cx="579" cy="1149.6" r="15"/><circle cx="579" cy="1149.6" r="11"/><path d="M579 1139 v21 M568.5 1149.6 h21 M571.5 1142 l15 15 M571.5 1157 l15 -15"/>
<path d="M621.7 1142 q11 0 11 11 q0 8 -10 12 l-1 3 l-1 -3 q-10 -4 -10 -12 q0 -11 11 -11 z"/><path d="M624 1147 q3 2 3 6"/><path d="M620 1142 q-4 -10 -6 -20 q-2 -8 0 -14 q8 4 10 14 q1 10 -3 20 M620 1142 l-13 -11 M621 1142 l8 -8"/>
<path d="M539 1191 h15 q2 1 1 4 l-9 34 l-9 -34 q-1 -3 2 -4 z"/><path d="M539 1198 h4 M542 1206 h5 M544 1215 h3"/><path d="M546 1191 q-1 -14 -11 -20 q7 0 10 8 q3 -10 12 -14 q-5 10 -8 26"/>
<path d="M593 1198 q-6 -3 -12 0 q-7 4 -6 14 q2 10 9 13 q4 2 9 0 q5 2 9 0 q7 -3 9 -13 q1 -10 -6 -14 q-6 -3 -12 0 z"/><path d="M598 1201 q6 2 6 10"/><path d="M593 1198 q-1 -8 -4 -11 M593 1193 q2 -8 11 -11 q-1 10 -11 11"/>
<path d="M643 1197 q12 -1 12 9 q0 8 -12 13 q-12 -5 -12 -13 q0 -10 12 -9 z"/><path d="M643 1196 q-6 -10 -13 -13 q6 8 9 13 M643 1196 l8 -6"/><path d="M638 1203 h.1 M644 1203 h.1 M641 1208 h.1 M647 1208 h.1 M643 1213 h.1"/>
<path d="M503 1241 q2 -15 6 -20 q3 -5 6 0 q4 5 6 20 M512 1223 l-2 -14 q-8 -3 -7 -8 q6 1 9 9 l5 -8"/>
<path d="M659 1111 a10 10 0 0 0 0 20 M659 1146 a13 13 0 0 0 0 26 M652 1157 l7 5"/>
<path d="M560 1241 q2 -10 10 -8 q5 2 6 8"/><path d="M625 1241 q5 -8 16 -5"/>
</g></g></g><rect x="142" y="1102" width="345" height="139" fill="#616b8c"/><g clip-path="url(#bclip)"><g transform="translate(-0.0 0)"><g fill="none" stroke="#596283" stroke-width="2" stroke-linecap="round" stroke-linejoin="round">
<path d="M534 1106 q8 -6 20 -2 q9 4 10 14 l2 4 q-10 4 -22 0 q-9 -4 -10 -12 z"/><path d="M545 1118 q5 3 10 0"/>
<path d="M487 1163 q20 6 34 -10 q5 -6 3 -13 q-3 -6 -9 -4 q-4 3 -4 9 q-6 12 -24 12"/><path d="M487 1171 q30 2 42 -20 q4 -10 -3 -16"/><path d="M524 1135 l7 -12 l3 4 l-6 10"/>
<circle cx="579" cy="1149.6" r="15"/><circle cx="579" cy="1149.6" r="11"/><path d="M579 1139 v21 M568.5 1149.6 h21 M571.5 1142 l15 15 M571.5 1157 l15 -15"/>
<path d="M621.7 1142 q11 0 11 11 q0 8 -10 12 l-1 3 l-1 -3 q-10 -4 -10 -12 q0 -11 11 -11 z"/><path d="M624 1147 q3 2 3 6"/><path d="M620 1142 q-4 -10 -6 -20 q-2 -8 0 -14 q8 4 10 14 q1 10 -3 20 M620 1142 l-13 -11 M621 1142 l8 -8"/>
<path d="M539 1191 h15 q2 1 1 4 l-9 34 l-9 -34 q-1 -3 2 -4 z"/><path d="M539 1198 h4 M542 1206 h5 M544 1215 h3"/><path d="M546 1191 q-1 -14 -11 -20 q7 0 10 8 q3 -10 12 -14 q-5 10 -8 26"/>
<path d="M593 1198 q-6 -3 -12 0 q-7 4 -6 14 q2 10 9 13 q4 2 9 0 q5 2 9 0 q7 -3 9 -13 q1 -10 -6 -14 q-6 -3 -12 0 z"/><path d="M598 1201 q6 2 6 10"/><path d="M593 1198 q-1 -8 -4 -11 M593 1193 q2 -8 11 -11 q-1 10 -11 11"/>
<path d="M643 1197 q12 -1 12 9 q0 8 -12 13 q-12 -5 -12 -13 q0 -10 12 -9 z"/><path d="M643 1196 q-6 -10 -13 -13 q6 8 9 13 M643 1196 l8 -6"/><path d="M638 1203 h.1 M644 1203 h.1 M641 1208 h.1 M647 1208 h.1 M643 1213 h.1"/>
<path d="M503 1241 q2 -15 6 -20 q3 -5 6 0 q4 5 6 20 M512 1223 l-2 -14 q-8 -3 -7 -8 q6 1 9 9 l5 -8"/>
<path d="M659 1111 a10 10 0 0 0 0 20 M659 1146 a13 13 0 0 0 0 26 M652 1157 l7 5"/>
<path d="M560 1241 q2 -10 10 -8 q5 2 6 8"/><path d="M625 1241 q5 -8 16 -5"/>
</g></g><g transform="translate(-172.5 0)"><g fill="none" stroke="#596283" stroke-width="2" stroke-linecap="round" stroke-linejoin="round">
<path d="M534 1106 q8 -6 20 -2 q9 4 10 14 l2 4 q-10 4 -22 0 q-9 -4 -10 -12 z"/><path d="M545 1118 q5 3 10 0"/>
<path d="M487 1163 q20 6 34 -10 q5 -6 3 -13 q-3 -6 -9 -4 q-4 3 -4 9 q-6 12 -24 12"/><path d="M487 1171 q30 2 42 -20 q4 -10 -3 -16"/><path d="M524 1135 l7 -12 l3 4 l-6 10"/>
<circle cx="579" cy="1149.6" r="15"/><circle cx="579" cy="1149.6" r="11"/><path d="M579 1139 v21 M568.5 1149.6 h21 M571.5 1142 l15 15 M571.5 1157 l15 -15"/>
<path d="M621.7 1142 q11 0 11 11 q0 8 -10 12 l-1 3 l-1 -3 q-10 -4 -10 -12 q0 -11 11 -11 z"/><path d="M624 1147 q3 2 3 6"/><path d="M620 1142 q-4 -10 -6 -20 q-2 -8 0 -14 q8 4 10 14 q1 10 -3 20 M620 1142 l-13 -11 M621 1142 l8 -8"/>
<path d="M539 1191 h15 q2 1 1 4 l-9 34 l-9 -34 q-1 -3 2 -4 z"/><path d="M539 1198 h4 M542 1206 h5 M544 1215 h3"/><path d="M546 1191 q-1 -14 -11 -20 q7 0 10 8 q3 -10 12 -14 q-5 10 -8 26"/>
<path d="M593 1198 q-6 -3 -12 0 q-7 4 -6 14 q2 10 9 13 q4 2 9 0 q5 2 9 0 q7 -3 9 -13 q1 -10 -6 -14 q-6 -3 -12 0 z"/><path d="M598 1201 q6 2 6 10"/><path d="M593 1198 q-1 -8 -4 -11 M593 1193 q2 -8 11 -11 q-1 10 -11 11"/>
<path d="M643 1197 q12 -1 12 9 q0 8 -12 13 q-12 -5 -12 -13 q0 -10 12 -9 z"/><path d="M643 1196 q-6 -10 -13 -13 q6 8 9 13 M643 1196 l8 -6"/><path d="M638 1203 h.1 M644 1203 h.1 M641 1208 h.1 M647 1208 h.1 M643 1213 h.1"/>
<path d="M503 1241 q2 -15 6 -20 q3 -5 6 0 q4 5 6 20 M512 1223 l-2 -14 q-8 -3 -7 -8 q6 1 9 9 l5 -8"/>
<path d="M659 1111 a10 10 0 0 0 0 20 M659 1146 a13 13 0 0 0 0 26 M652 1157 l7 5"/>
<path d="M560 1241 q2 -10 10 -8 q5 2 6 8"/><path d="M625 1241 q5 -8 16 -5"/>
</g></g><g transform="translate(-345.0 0)"><g fill="none" stroke="#596283" stroke-width="2" stroke-linecap="round" stroke-linejoin="round">
<path d="M534 1106 q8 -6 20 -2 q9 4 10 14 l2 4 q-10 4 -22 0 q-9 -4 -10 -12 z"/><path d="M545 1118 q5 3 10 0"/>
<path d="M487 1163 q20 6 34 -10 q5 -6 3 -13 q-3 -6 -9 -4 q-4 3 -4 9 q-6 12 -24 12"/><path d="M487 1171 q30 2 42 -20 q4 -10 -3 -16"/><path d="M524 1135 l7 -12 l3 4 l-6 10"/>
<circle cx="579" cy="1149.6" r="15"/><circle cx="579" cy="1149.6" r="11"/><path d="M579 1139 v21 M568.5 1149.6 h21 M571.5 1142 l15 15 M571.5 1157 l15 -15"/>
<path d="M621.7 1142 q11 0 11 11 q0 8 -10 12 l-1 3 l-1 -3 q-10 -4 -10 -12 q0 -11 11 -11 z"/><path d="M624 1147 q3 2 3 6"/><path d="M620 1142 q-4 -10 -6 -20 q-2 -8 0 -14 q8 4 10 14 q1 10 -3 20 M620 1142 l-13 -11 M621 1142 l8 -8"/>
<path d="M539 1191 h15 q2 1 1 4 l-9 34 l-9 -34 q-1 -3 2 -4 z"/><path d="M539 1198 h4 M542 1206 h5 M544 1215 h3"/><path d="M546 1191 q-1 -14 -11 -20 q7 0 10 8 q3 -10 12 -14 q-5 10 -8 26"/>
<path d="M593 1198 q-6 -3 -12 0 q-7 4 -6 14 q2 10 9 13 q4 2 9 0 q5 2 9 0 q7 -3 9 -13 q1 -10 -6 -14 q-6 -3 -12 0 z"/><path d="M598 1201 q6 2 6 10"/><path d="M593 1198 q-1 -8 -4 -11 M593 1193 q2 -8 11 -11 q-1 10 -11 11"/>
<path d="M643 1197 q12 -1 12 9 q0 8 -12 13 q-12 -5 -12 -13 q0 -10 12 -9 z"/><path d="M643 1196 q-6 -10 -13 -13 q6 8 9 13 M643 1196 l8 -6"/><path d="M638 1203 h.1 M644 1203 h.1 M641 1208 h.1 M647 1208 h.1 M643 1213 h.1"/>
<path d="M503 1241 q2 -15 6 -20 q3 -5 6 0 q4 5 6 20 M512 1223 l-2 -14 q-8 -3 -7 -8 q6 1 9 9 l5 -8"/>
<path d="M659 1111 a10 10 0 0 0 0 20 M659 1146 a13 13 0 0 0 0 26 M652 1157 l7 5"/>
<path d="M560 1241 q2 -10 10 -8 q5 2 6 8"/><path d="M625 1241 q5 -8 16 -5"/>
</g></g><g transform="translate(-517.5 0)"><g fill="none" stroke="#596283" stroke-width="2" stroke-linecap="round" stroke-linejoin="round">
<path d="M534 1106 q8 -6 20 -2 q9 4 10 14 l2 4 q-10 4 -22 0 q-9 -4 -10 -12 z"/><path d="M545 1118 q5 3 10 0"/>
<path d="M487 1163 q20 6 34 -10 q5 -6 3 -13 q-3 -6 -9 -4 q-4 3 -4 9 q-6 12 -24 12"/><path d="M487 1171 q30 2 42 -20 q4 -10 -3 -16"/><path d="M524 1135 l7 -12 l3 4 l-6 10"/>
<circle cx="579" cy="1149.6" r="15"/><circle cx="579" cy="1149.6" r="11"/><path d="M579 1139 v21 M568.5 1149.6 h21 M571.5 1142 l15 15 M571.5 1157 l15 -15"/>
<path d="M621.7 1142 q11 0 11 11 q0 8 -10 12 l-1 3 l-1 -3 q-10 -4 -10 -12 q0 -11 11 -11 z"/><path d="M624 1147 q3 2 3 6"/><path d="M620 1142 q-4 -10 -6 -20 q-2 -8 0 -14 q8 4 10 14 q1 10 -3 20 M620 1142 l-13 -11 M621 1142 l8 -8"/>
<path d="M539 1191 h15 q2 1 1 4 l-9 34 l-9 -34 q-1 -3 2 -4 z"/><path d="M539 1198 h4 M542 1206 h5 M544 1215 h3"/><path d="M546 1191 q-1 -14 -11 -20 q7 0 10 8 q3 -10 12 -14 q-5 10 -8 26"/>
<path d="M593 1198 q-6 -3 -12 0 q-7 4 -6 14 q2 10 9 13 q4 2 9 0 q5 2 9 0 q7 -3 9 -13 q1 -10 -6 -14 q-6 -3 -12 0 z"/><path d="M598 1201 q6 2 6 10"/><path d="M593 1198 q-1 -8 -4 -11 M593 1193 q2 -8 11 -11 q-1 10 -11 11"/>
<path d="M643 1197 q12 -1 12 9 q0 8 -12 13 q-12 -5 -12 -13 q0 -10 12 -9 z"/><path d="M643 1196 q-6 -10 -13 -13 q6 8 9 13 M643 1196 l8 -6"/><path d="M638 1203 h.1 M644 1203 h.1 M641 1208 h.1 M647 1208 h.1 M643 1213 h.1"/>
<path d="M503 1241 q2 -15 6 -20 q3 -5 6 0 q4 5 6 20 M512 1223 l-2 -14 q-8 -3 -7 -8 q6 1 9 9 l5 -8"/>
<path d="M659 1111 a10 10 0 0 0 0 20 M659 1146 a13 13 0 0 0 0 26 M652 1157 l7 5"/>
<path d="M560 1241 q2 -10 10 -8 q5 2 6 8"/><path d="M625 1241 q5 -8 16 -5"/>
</g></g></g></svg>
<div class="abs" style="left:659px;top:1102px;width:2px;height:139px;background:#f6d58c"></div>
<div class="t" style="left:183.1px;top:1122.0px;font-size:16.05px;line-height:16.05px;color:#ffffff;font-family:'Liberation Sans',sans-serif;-webkit-text-stroke:0.3px #fff;">RESTORIA respecte la</div>
<div class="t" style="left:352.4px;top:1118.5px;font-size:20.36px;line-height:20.36px;color:#ffffff;font-family:'Liberation Serif',serif;font-weight:bold;font-style:italic;">saisonnalité</div>
<div class="t" style="left:208.3px;top:1138.1px;font-size:21.37px;line-height:21.37px;color:#ffffff;font-family:'Liberation Serif',serif;font-style:italic;">des fruits et légumes frais</div>
<svg class="abs" style="left:288px;top:1174px" width="59" height="23"><path d="M0.4 0.7 H58.6 L29.5 22.2 Z" fill="#fff"/></svg>
<div class="t" style="left:203.1px;top:1205.7px;font-size:16.94px;line-height:16.94px;color:#ffffff;font-family:'Liberation Sans',sans-serif;-webkit-text-stroke:0.3px #fff;">Plus d’infos sur</div>
<div class="t" style="left:322.3px;top:1206.6px;font-size:15.87px;line-height:15.87px;color:#ffffff;font-family:'Liberation Sans',sans-serif;font-weight:bold;">radislatoque.fr</div>
<svg class="abs" style="left:760px;top:1119px" width="75" height="77" viewBox="0 0 75 77">
<defs><clipPath id="vc"><circle cx="37.2" cy="38.5" r="35"/></clipPath></defs>
<circle cx="37.2" cy="38.5" r="35.5" fill="#fff"/>
<g clip-path="url(#vc)"><rect x="0" y="0" width="26" height="23" fill="#2f3f95"/><rect x="48" y="0" width="30" height="23" fill="#d2222a"/></g>
<circle cx="37.2" cy="38.5" r="35.5" fill="none" stroke="#2d3b8c" stroke-width="2.6"/>
<text x="37.5" y="46" text-anchor="middle" font-family="Liberation Serif" font-weight="bold" font-size="23" fill="#c9202b" textLength="61" lengthAdjust="spacingAndGlyphs">Viandes</text>
<text x="37.5" y="57" text-anchor="middle" font-family="Liberation Sans" font-size="8.5" fill="#3b4a9a" textLength="53" lengthAdjust="spacingAndGlyphs">FRANÇAISES</text>
<rect x="23" y="61.5" width="28" height="2.2" fill="#111"/>
</svg>
<div class="t" style="left:849.7px;top:1123.1px;font-size:13.86px;line-height:13.86px;color:#222222;font-family:'Liberation Sans',sans-serif;font-style:italic;-webkit-text-stroke:0.35px #222222;">Viandes bovines,</div>
<div class="t" style="left:849.7px;top:1137.0px;font-size:14.07px;line-height:14.07px;color:#222222;font-family:'Liberation Sans',sans-serif;font-style:italic;-webkit-text-stroke:0.35px #222222;">porcines et volailles.</div>
<div class="t" style="left:849.7px;top:1158.2px;font-size:13.53px;line-height:13.53px;color:#222222;font-family:'Liberation Sans',sans-serif;font-style:italic;-webkit-text-stroke:0.35px #222222;">Origine : France.</div>
<div class="t" style="left:849.7px;top:1178.7px;font-size:13.87px;line-height:13.87px;color:#222222;font-family:'Liberation Sans',sans-serif;font-style:italic;-webkit-text-stroke:0.35px #222222;">Décret n°2022-65</div>
<div class="t" style="left:1086.4px;top:1141.2px;font-size:14.67px;line-height:14.67px;color:#b3202f;font-family:'Liberation Sans',sans-serif;font-style:italic;-webkit-text-stroke:0.35px #b3202f;">Menus susceptibles d’être modifiés selon les approvisionnements.</div>
<div class="t" style="left:1086.4px;top:1162.5px;font-size:11.55px;line-height:11.55px;color:#666;font-family:'Liberation Sans',sans-serif;">Pour ta santé, pratique une activité physique régulière, www.mangerbouger.fr.</div>
<div class="t" style="left:1408.5px;top:1081.9px;font-size:12.34px;line-height:12.34px;color:#111;font-family:'Liberation Sans',sans-serif;">RS LA CELLE ST AVANT R04719 Sélection Enfant GR 3</div>
<div class="abs" style="left:1564px;top:1101px;width:159px;height:113px;background:#9e111f"></div>
<svg class="abs" style="left:1564px;top:1101px" width="159" height="113" viewBox="0 0 159 113">
<g fill="none" stroke="#f6dcd6" stroke-width="1.2" stroke-linecap="round">
<path d="M22 26 Q36 21 50 19"/><path d="M28 32 Q39 26 49 23"/><path d="M32 36 Q40 32 47.5 27.5"/>
<path d="M51 20 Q58 28 52 37"/><path d="M47 24 Q52 30 49 36"/>
<path d="M40 34 Q38 45 32 49 Q22 56 19 62"/>
<path d="M46 42.5 Q60 44 76 49 Q92 48 102 44"/>
<path d="M101 50 Q104 45 109 46 M107 43 L121 62 M110 46 L117 55"/>
<ellipse cx="122.5" cy="61.2" rx="11.3" ry="7.9"/><path d="M118 60 a3.5 3.5 0 1 0 6 -3"/>
</g>
<g fill="#f6dcd6">
<path id="st" d="M0 -3.4 L1 -1 3.3 -1 1.5 .5 2.1 2.8 0 1.4 -2.1 2.8 -1.5 .5 -3.3 -1 -1 -1 Z" transform="translate(60.5 21.2)"/>
<path d="M0 -3.4 L1 -1 3.3 -1 1.5 .5 2.1 2.8 0 1.4 -2.1 2.8 -1.5 .5 -3.3 -1 -1 -1 Z" transform="translate(85.3 21.7)"/>
<path d="M0 -3.4 L1 -1 3.3 -1 1.5 .5 2.1 2.8 0 1.4 -2.1 2.8 -1.5 .5 -3.3 -1 -1 -1 Z" transform="translate(118.6 22.8)"/>
<path d="M0 -3.4 L1 -1 3.3 -1 1.5 .5 2.1 2.8 0 1.4 -2.1 2.8 -1.5 .5 -3.3 -1 -1 -1 Z" transform="translate(69.5 36.4) scale(1.2)"/>
<path d="M0 -3.4 L1 -1 3.3 -1 1.5 .5 2.1 2.8 0 1.4 -2.1 2.8 -1.5 .5 -3.3 -1 -1 -1 Z" transform="translate(104.5 30.7) scale(1.1)"/>
<path d="M0 -3.4 L1 -1 3.3 -1 1.5 .5 2.1 2.8 0 1.4 -2.1 2.8 -1.5 .5 -3.3 -1 -1 -1 Z" transform="translate(116.9 37.5)"/>
</g>
<text x="78.3" y="90.5" text-anchor="middle" font-family="Liberation Serif" font-size="24.5" fill="#f8e3de" stroke="#9e111f" stroke-width="0.2" textLength="131.5" lengthAdjust="spacingAndGlyphs">RESTORIA</text>
</svg>

</body></html>
